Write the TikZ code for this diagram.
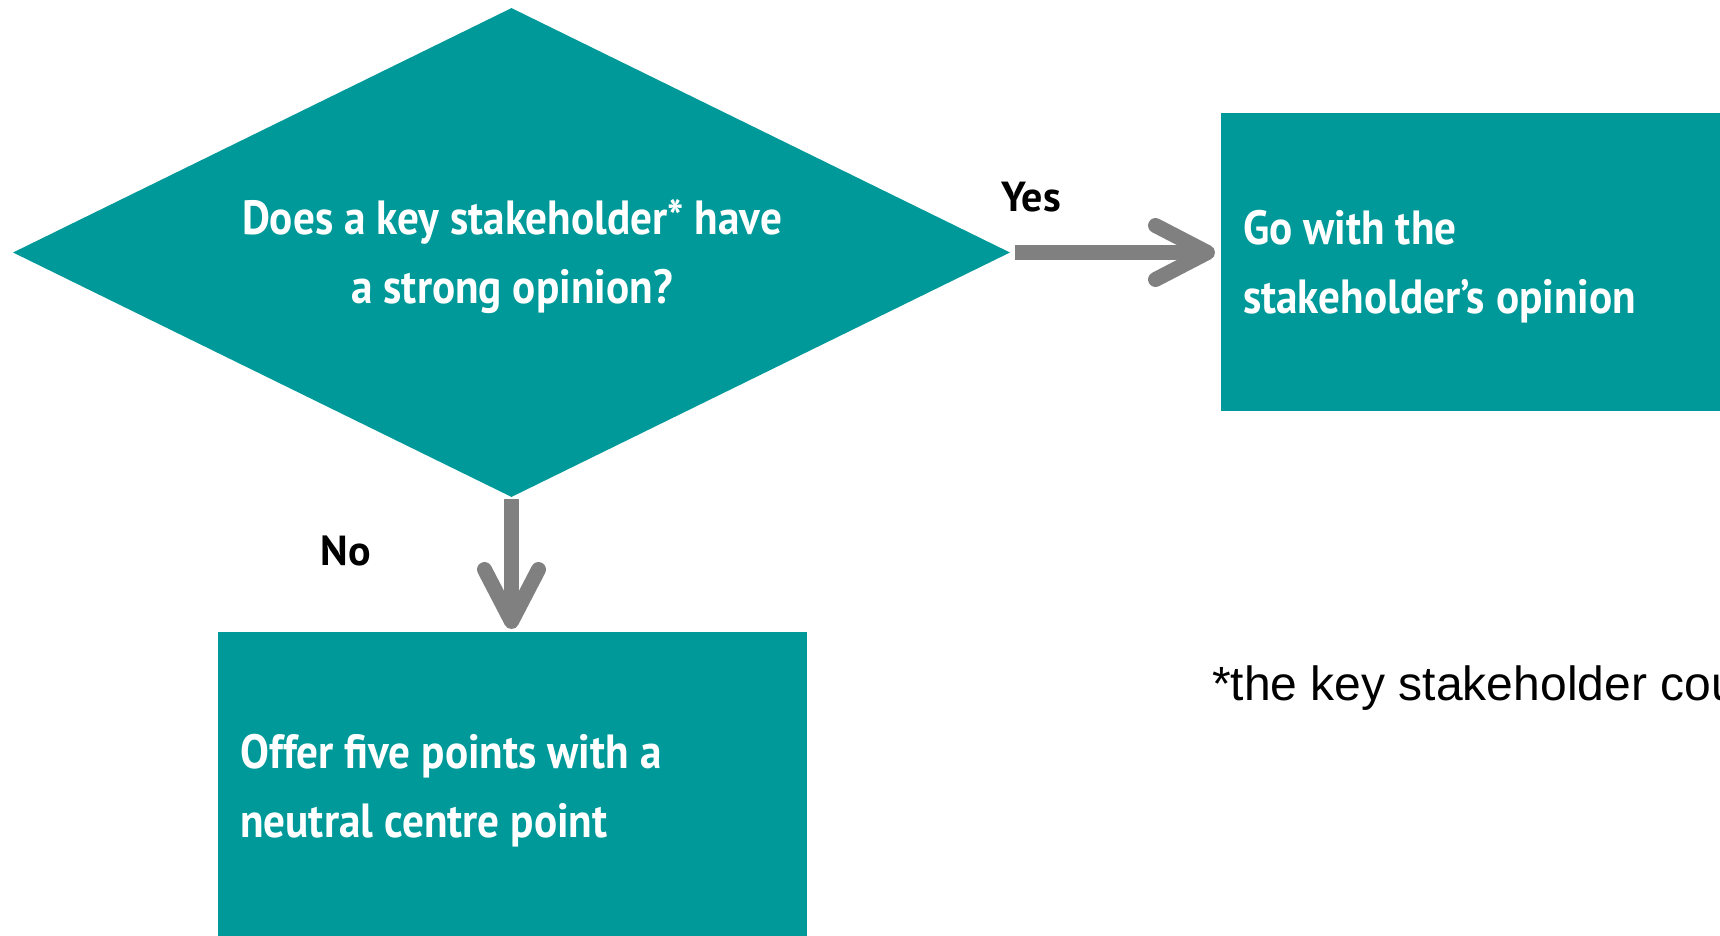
\documentclass[tikz,border=0pt]{standalone}
\usepackage{fontspec}
\setmainfont{Liberation Sans}
\newfontfamily\boxfont[FakeStretch=0.9]{PT Sans}
\newfontfamily\lblfont{PT Sans}
\usetikzlibrary{shapes.geometric,arrows.meta}
\definecolor{teal}{HTML}{009999}
\definecolor{arrowgray}{HTML}{808080}
\tikzset{
  tealshape/.style={fill=teal, draw=none, inner sep=0pt},
  boxtext/.style={text=white, font=\boxfont\bfseries\fontsize{48}{69}\selectfont, inner sep=0pt, align=left},
  lbl/.style={font=\lblfont\bfseries\fontsize{42}{50}\selectfont, inner sep=0pt},
  flowarrow/.style={draw=arrowgray, line width=15pt, -{Straight Barb[length=52pt, width=54pt, round]}},
}
\begin{document}
\begin{tikzpicture}[x=1pt,y=-1pt]
\useasboundingbox (0,0) rectangle (1720,935);
% diamond
\node[tealshape, diamond, minimum width=997pt, minimum height=489pt] (dec) at (511.5,252.5) {};
\node[boxtext, align=center] (dectext) at (512,257) {Does a key stakeholder* have\\a strong opinion?};
% right box
\node[tealshape, anchor=north west, minimum width=500pt, minimum height=298pt] (yesbox) at (1221,113) {};
\node[boxtext, anchor=west] (yestext) at (1243,267) {Go with the\\stakeholder’s opinion};
% bottom box
\node[tealshape, anchor=north west, minimum width=589pt, minimum height=310pt] (nobox) at (218,632) {};
\node[boxtext, anchor=west] (notext) at (240,791) {Offer five points with a\\neutral centre point};
% arrows
\draw[flowarrow, shorten <=5pt, shorten >=6pt] (dec.east) -- (yesbox.west |- dec.east);
\draw[flowarrow, shorten <=2pt, shorten >=3pt] (dec.south) -- (nobox.north -| dec.south);
% labels
\node[lbl] (yes) at (1031,197) {Yes};
\node[lbl] (no) at (346,551) {No};
% footnote
\node[anchor=base west, inner sep=0pt, font=\fontsize{48}{56}\selectfont] (foot) at (1212,700) {*the key stakeholder cou};
\end{tikzpicture}
\end{document}
